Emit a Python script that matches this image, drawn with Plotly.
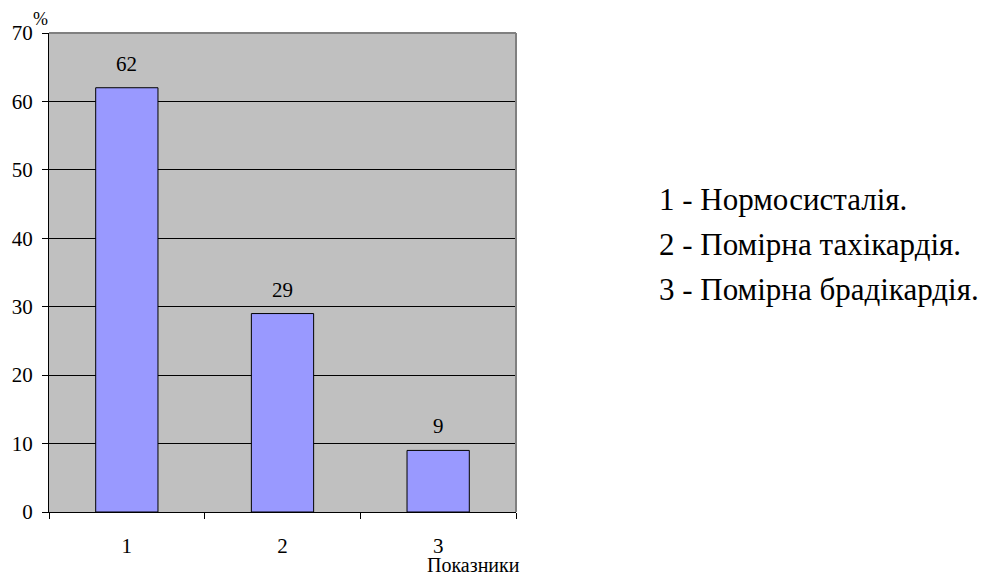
import plotly.graph_objects as go

categories = ["1", "2", "3"]
values = [62, 29, 9]
y_ticks = [0, 10, 20, 30, 40, 50, 60, 70]
legend_lines = ["1 - Нормосисталія.", "2 - Помірна тахікардія.", "3 - Помірна брадікардія."]

SERIF = "Liberation Serif, Times New Roman, serif"

fig = go.Figure()
fig.add_trace(go.Bar(
    x=categories,
    y=values,
    marker=dict(color="#9999FF", line=dict(color="black", width=1)),
    width=0.4,
))

# value labels above each bar (category axis positions are indices)
for i, v in enumerate(values):
    fig.add_annotation(x=i, y=v, text=str(v), showarrow=False,
                       xanchor="center", yanchor="bottom", yshift=10,
                       font=dict(family=SERIF, size=21, color="black"))

fig.update_layout(
    width=987, height=579,
    margin=dict(l=49, r=471, t=33, b=67),
    paper_bgcolor="white",
    plot_bgcolor="#C0C0C0",
    showlegend=False,
    font=dict(family=SERIF, size=21, color="black"),
)

fig.update_xaxes(
    type="category",
    tickson="boundaries",
    ticks="outside", ticklen=6, tickcolor="black", tickwidth=1,
    showline=True, linecolor="black", linewidth=1,
    showgrid=False,
    tickfont=dict(family=SERIF, size=21, color="black"),
    ticklabelstandoff=15,
    range=[-0.5, 2.5],
)
fig.update_yaxes(
    range=[0, 70],
    tickvals=y_ticks,
    ticks="outside", ticklen=6, tickcolor="black", tickwidth=1,
    showline=True, linecolor="black", linewidth=1,
    showgrid=True, gridcolor="black", gridwidth=1,
    zeroline=False,
    tickfont=dict(family=SERIF, size=21, color="black"),
    ticklabelstandoff=5,
)

# gray frame on top and right edges of the plot area
fig.add_shape(type="line", xref="x domain", yref="y domain", x0=0, x1=1, y0=1, y1=1,
              line=dict(color="#808080", width=2), layer="above")
fig.add_shape(type="line", xref="x domain", yref="y domain", x0=1, x1=1, y0=0, y1=1,
              line=dict(color="#808080", width=2), layer="above")

fig.add_annotation(text="%", xref="paper", yref="paper", x=0.002, y=1.0,
                   xanchor="right", yanchor="bottom", showarrow=False,
                   font=dict(family=SERIF, size=18, color="black"), yshift=2)
fig.add_annotation(text="Показники", xref="paper", yref="paper", x=0.910, y=0,
                   xanchor="center", yanchor="middle", showarrow=False,
                   font=dict(family=SERIF, size=20, color="black"), yshift=-53)

legend_y = [0.653, 0.559, 0.465]
for line, ly in zip(legend_lines, legend_y):
    fig.add_annotation(text=line, xref="paper", yref="paper", x=1.302, y=ly,
                       xanchor="left", yanchor="middle", showarrow=False,
                       font=dict(family=SERIF, size=31, color="black"))

fig.write_html("out.html")
